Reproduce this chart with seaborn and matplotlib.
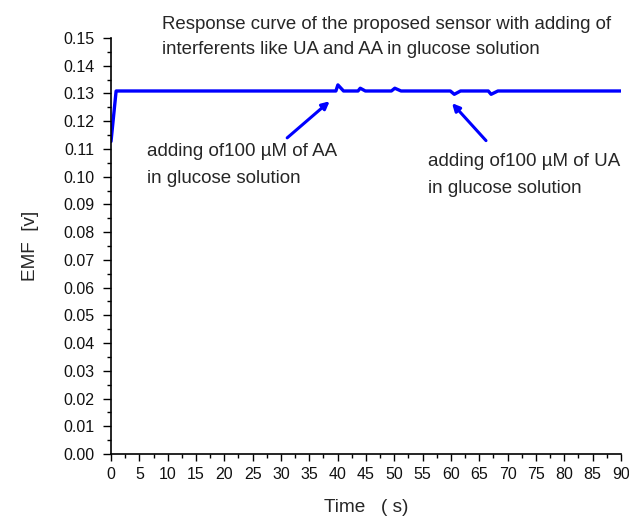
import matplotlib
matplotlib.use("Agg")
import matplotlib.pyplot as plt
import seaborn as sns
import pandas as pd
from matplotlib.ticker import MultipleLocator, FormatStrFormatter

time_s = [0, 0.9, 39.7, 40.05, 41.05, 43.6, 44.0, 44.9, 49.5, 50.1, 51.2,
          59.9, 60.6, 61.7, 66.6, 67.1, 68.3, 90]
emf_v = [0.1127, 0.1309, 0.1309, 0.1331, 0.1309, 0.1309, 0.1319, 0.1309, 0.1309, 0.1319, 0.1309,
         0.1309, 0.1297, 0.1309, 0.1309, 0.1297, 0.1309, 0.1309]

title_text = "Response curve of the proposed sensor with adding of\ninterferents like UA and AA in glucose solution"
note_aa = "adding of100 \u00b5M of AA\nin glucose solution"
note_ua = "adding of100 \u00b5M of UA\nin glucose solution"

sns.set_style("ticks")
plt.rcParams['font.family'] = ['Liberation Sans', 'DejaVu Sans']

df = pd.DataFrame({"t": time_s, "emf": emf_v})

fig = plt.figure(figsize=(6.29, 5.18), dpi=100)
ax = fig.add_axes([0.1765, 0.1236, 0.8105, 0.803])
sns.lineplot(data=df, x="t", y="emf", sort=False, estimator=None, color="#0000ff", lw=2.4, ax=ax)

ax.set_xlim(0, 90)
ax.set_ylim(0, 0.15)
ax.xaxis.set_major_locator(MultipleLocator(5))
ax.xaxis.set_minor_locator(MultipleLocator(2.5))
ax.yaxis.set_major_locator(MultipleLocator(0.01))
ax.yaxis.set_minor_locator(MultipleLocator(0.005))
ax.yaxis.set_major_formatter(FormatStrFormatter("%.2f"))
ax.tick_params(which="major", width=1, labelsize=11.5, direction="out", color="black",
               labelcolor="#111111")
ax.tick_params(which="minor", length=3, width=1, direction="out", color="black")
ax.tick_params(axis="x", which="major", length=5, pad=4.5)
ax.tick_params(axis="y", which="major", length=6, pad=6)
for s in ["top", "right"]:
    ax.spines[s].set_visible(False)
for s in ["left", "bottom"]:
    ax.spines[s].set_color("black")
    ax.spines[s].set_linewidth(1.2)

ax.set_xlabel("Time   ( s)", fontsize=13.7, labelpad=12)
ax.set_ylabel("EMF  [v]", fontsize=13.7, labelpad=17)

fig.text(162 / 629, 1 - 16 / 518, title_text, fontsize=13.4, va="top", ha="left", linespacing=1.62)

ax.annotate("", xy=(38.6, 0.1272), xytext=(31.1, 0.1140),
            arrowprops=dict(arrowstyle="-|>", color="#0000ff", lw=2.2, mutation_scale=11,
                            shrinkA=0, shrinkB=0))
ax.annotate("", xy=(60.2, 0.1265), xytext=(66.2, 0.1130),
            arrowprops=dict(arrowstyle="-|>", color="#0000ff", lw=2.2, mutation_scale=11,
                            shrinkA=0, shrinkB=0))
ax.text(6.4, 0.1123, note_aa, fontsize=13.5, va="top", ha="left", linespacing=1.8)
ax.text(55.9, 0.1086, note_ua, fontsize=13.5, va="top", ha="left", linespacing=1.8)

fig.savefig("out.png", dpi=100)
